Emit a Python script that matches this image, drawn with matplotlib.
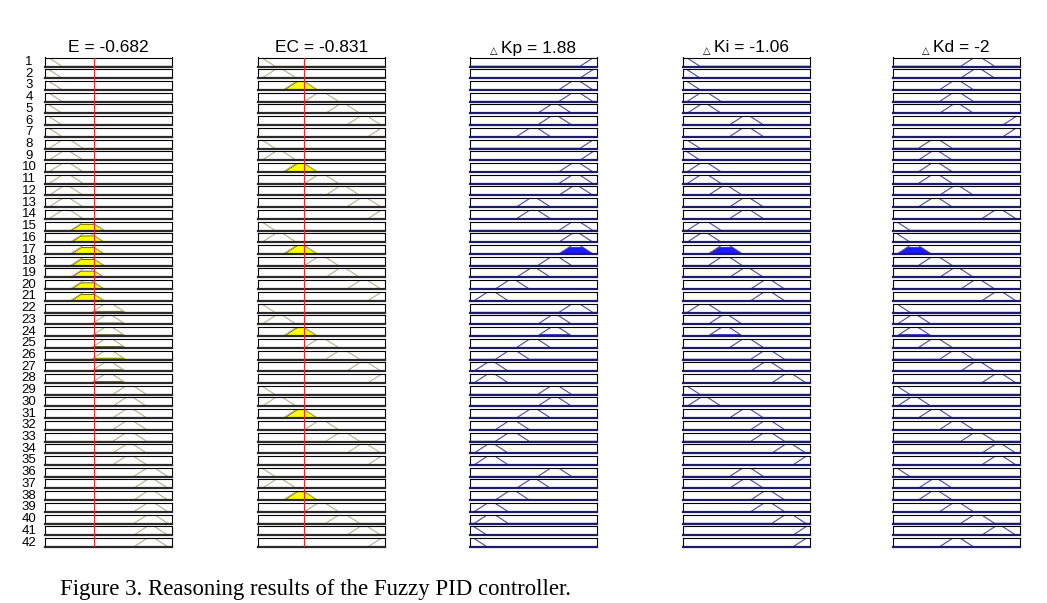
import numpy as np
import matplotlib
matplotlib.use("Agg")
import matplotlib.pyplot as plt
from matplotlib.text import Annotation

W, H = 1047, 603

# crisp values shown on top of each column
e_val = -0.682
ec_val = -0.831
kp_val = 1.88
ki_val = -1.06
kd_val = -2

# MF index per rule: 0=NB 1=NM 2=NS 3=ZO 4=PS 5=PM 6=PB  (centres at -3..3)
mf_centers = [-3, -2, -1, 0, 1, 2, 3]
e_rule = [0, 0, 0, 0, 0, 0, 0,
          1, 1, 1, 1, 1, 1, 1,
          2, 2, 2, 2, 2, 2, 2,
          3, 3, 3, 3, 3, 3, 3,
          4, 4, 4, 4, 4, 4, 4,
          5, 5, 5, 5, 5, 5, 5]
ec_rule = [0, 1, 2, 3, 4, 5, 6,
           0, 1, 2, 3, 4, 5, 6,
           0, 1, 2, 3, 4, 5, 6,
           0, 1, 2, 3, 4, 5, 6,
           0, 1, 2, 3, 4, 5, 6,
           0, 1, 2, 3, 4, 5, 6]
kp_rule = [6, 6, 5, 5, 4, 4, 3,
           6, 6, 5, 5, 5, 3, 3,
           5, 5, 5, 4, 3, 2, 1,
           5, 4, 4, 3, 2, 1, 1,
           4, 4, 3, 2, 2, 1, 1,
           4, 3, 2, 1, 1, 0, 0]
ki_rule = [0, 0, 0, 1, 1, 3, 3,
           0, 0, 1, 1, 2, 3, 3,
           1, 1, 2, 2, 3, 4, 4,
           1, 2, 2, 3, 4, 4, 5,
           0, 1, 3, 4, 4, 5, 6,
           3, 3, 4, 4, 5, 6, 6]
kd_rule = [4, 4, 3, 3, 3, 6, 6,
           2, 2, 2, 2, 3, 2, 5,
           0, 0, 1, 2, 3, 4, 5,
           0, 1, 1, 2, 3, 4, 5,
           0, 1, 2, 3, 4, 5, 5,
           0, 2, 2, 3, 4, 5, 3]

titles = ["E = %g" % e_val, "EC = %g" % ec_val,
          "Kp = %g" % kp_val, "Ki = %g" % ki_val, "Kd = %g" % kd_val]
col_left = [45, 258, 470, 683, 893]
col_w = 127
row_top0 = 57.5
row_step = 11.72
row_h = 9.0
half_w = 0.8


def tri(x, c):
    return np.clip(1 - np.abs(x - c) / half_w, 0, 1)


def px_axes(x, y, w, h):
    return fig.add_axes([x / W, 1 - (y + h) / H, w / W, h / H])


fig = plt.figure(figsize=(W / 100, H / 100), dpi=100)
xs = np.linspace(-3, 3, 601)
n_rules = len(e_rule)

for r in range(n_rules):
    mu_e = tri(e_val, mf_centers[e_rule[r]])
    mu_ec = tri(ec_val, mf_centers[ec_rule[r]])
    fire = min(mu_e, mu_ec)
    y = row_top0 + r * row_step
    for c in range(5):
        ax = px_axes(col_left[c], y, col_w, row_h)
        ax.set_xlim(-3, 3)
        ax.set_ylim(-0.02, 0.8)
        ax.set_xticks([])
        ax.set_yticks([])
        if c < 2:
            idx = e_rule[r] if c == 0 else ec_rule[r]
            mu = mu_e if c == 0 else mu_ec
            lc, bc = "#b3b28a", "#2a2a2a"
        else:
            idx = [kp_rule, ki_rule, kd_rule][c - 2][r]
            mu = fire
            lc, bc = "#4848a8", "#1c1c6a"
        cen = mf_centers[idx]
        for s in ax.spines.values():
            s.set_linewidth(0.8)
            s.set_color("black")
        ax.spines["bottom"].set_linewidth(1.6)
        ax.spines["bottom"].set_color(bc)
        ax.plot([-4, cen - half_w, cen, cen + half_w, 4], [0, 0, 1, 0, 0],
                color=lc, lw=0.8)
        if mu > 0:
            fc = "#ffff00" if c < 2 else "#1a1aff"
            ec = "#333300" if c < 2 else "#0000aa"
            ax.fill_between(xs, 0, np.minimum(tri(xs, cen), mu),
                            where=tri(xs, cen) > 0, facecolor=fc,
                            edgecolor=ec, lw=0.5)
    fig.text(29 / W, 1 - (y + row_h / 2) / H, str(r + 1), ha="center",
             va="center", fontsize=9.5, family="Liberation Sans")

# red lines through the input columns
top = row_top0
bot = row_top0 + (n_rules - 1) * row_step + row_h
for c, v in [(0, e_val), (1, ec_val)]:
    ov = px_axes(col_left[c], top, col_w, bot - top)
    ov.set_xlim(-3, 3)
    ov.axis("off")
    ov.axvline(v, color="#ff2020", lw=0.8)

# column titles
for c in range(5):
    cx = col_left[c] + col_w / 2
    if c >= 2:
        cx += 5
    t = fig.text(cx / W, 1 - 48 / H, titles[c], ha="center", va="center",
                 fontsize=12.5, family="Liberation Sans")
    if c >= 2:
        tri_lbl = Annotation("\u25b3", xy=(0, 0.3), xycoords=t,
                             xytext=(-2.5, 0), textcoords="offset points",
                             ha="right", va="center", fontsize=7,
                             family="DejaVu Sans")
        fig.add_artist(tri_lbl)

fig.text(60 / W, 1 - 590 / H,
         "Figure 3. Reasoning results of the Fuzzy PID controller.",
         ha="left", va="center", fontsize=16.4, family="Liberation Serif")

fig.savefig("out.png", dpi=100)
